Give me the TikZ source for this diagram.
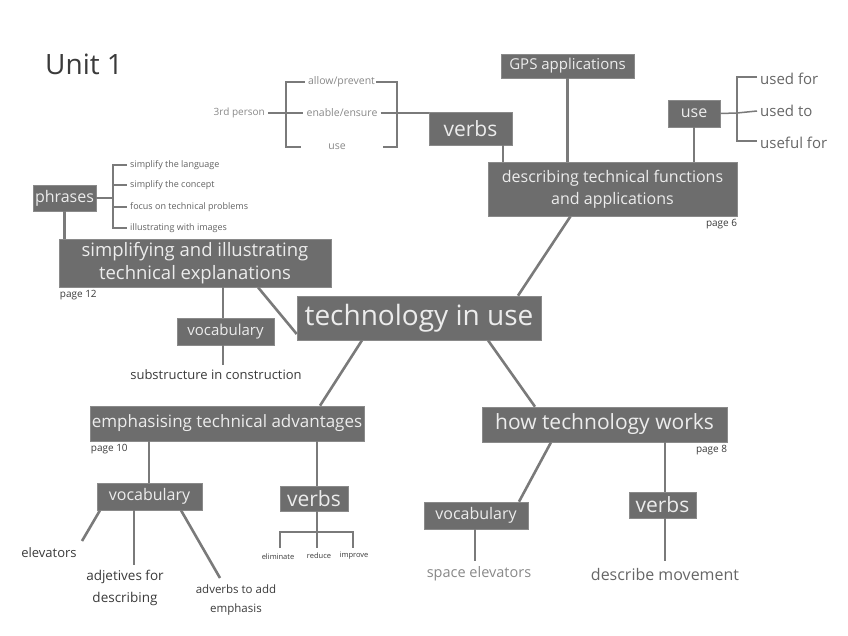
\documentclass[tikz,border=0pt]{standalone}
\usepackage{fontspec}
\setmainfont{Open Sans}
\definecolor{boxfill}{HTML}{6D6D6D}
\definecolor{boxtext}{HTML}{ECECEC}
\definecolor{linec}{HTML}{7A7A7A}
\definecolor{darktext}{HTML}{3A3A3A}
\definecolor{midtext}{HTML}{666666}
\definecolor{lighttext}{HTML}{888888}
\newcommand{\fs}[2]{\fontsize{#1}{#2}\selectfont}
\begin{document}
\begin{tikzpicture}[x=1pt,y=-1pt,
  box/.style={fill=boxfill,draw=boxfill!80!white,line width=0.6pt,text=boxtext,inner sep=0pt,align=center},
  lbl/.style={inner sep=0pt,align=center},
  conn/.style={draw=linec,line width=2.6pt},
  thin/.style={draw=linec,line width=1.5pt},
  pg/.style={inner sep=0pt,text=darktext,font=\fs{10}{12}}]
\useasboundingbox (0,0) rectangle (848,636);

% title
\node[lbl,anchor=west,text=darktext,font=\fs{28}{32}] (title) at (45,64) {Unit 1};

% boxes
\node[box,minimum width=133,minimum height=24,font=\fs{15}{18}] (gps) at (567.5,66) {GPS applications};
\node[box,minimum width=83,minimum height=33,font=\fs{21}{24}] (verbsT) at (470.5,128.5) {verbs};
\node[box,minimum width=52,minimum height=27,font=\fs{16}{19}] (use) at (694,113.5) {use};
\node[box,minimum width=249,minimum height=54,font=\fs{16}{22}] (desc) at (612.5,189) {describing technical functions\\and applications};
\node[box,minimum width=244,minimum height=44,font=\fs{28}{32}] (center) at (419,318) {technology in use};
\node[box,minimum width=272,minimum height=48,font=\fs{18.5}{23}] (simp) at (195,263) {simplifying and illustrating\\technical explanations};
\node[box,minimum width=63,minimum height=26,font=\fs{16}{19}] (phrases) at (64.5,198) {phrases};
\node[box,minimum width=97,minimum height=27,font=\fs{15}{18}] (vocab1) at (225.5,331.5) {vocabulary};
\node[box,minimum width=274,minimum height=35,font=\fs{17}{20}] (emph) at (227,423.5) {emphasising technical advantages};
\node[box,minimum width=245,minimum height=35,font=\fs{21}{24}] (how) at (604.5,424.5) {how technology works};
\node[box,minimum width=105,minimum height=27,font=\fs{16}{19}] (vocab2) at (149.5,496.5) {vocabulary};
\node[box,minimum width=68,minimum height=25,font=\fs{21}{24}] (verbs2) at (314,498.5) {verbs};
\node[box,minimum width=104,minimum height=27,font=\fs{16}{19}] (vocab3) at (476,515.5) {vocabulary};
\node[box,minimum width=67,minimum height=26,font=\fs{21}{24}] (verbs3) at (662.5,505) {verbs};

% page labels
\node[pg,anchor=north east] (p6) at (desc.south east) [yshift=-3] {page 6};
\node[pg,anchor=north west] (p12) at (simp.south west) [yshift=-3,xshift=1] {page 12};
\node[pg,anchor=north west] (p10) at (emph.south west) [yshift=-3,xshift=1] {page 10};
\node[pg,anchor=north east] (p8) at (how.south east) [yshift=-3] {page 8};

% top-right "use" list
\node[lbl,anchor=west,text=midtext,font=\fs{15}{18}] (usedfor) at (760,79) {used for};
\node[lbl,anchor=west,text=midtext,font=\fs{15}{18}] (usedto) at (760,111) {used to};
\node[lbl,anchor=west,text=midtext,font=\fs{15}{18}] (usefulfor) at (760,143) {useful for};
\coordinate (ub) at (737,113);
\draw[thin] (use.east) -- (ub);
\draw[thin] (usedfor.west) ++(-3,-2) -| (ub) |- ([xshift=-3,yshift=2]usefulfor.west);
\draw[thin] (ub) -- ([xshift=-3]usedto.west);

% top verbs bracket
\node[lbl,anchor=east,text=lighttext,font=\fs{10}{12}] (third) at (265,113) {3rd person};
\node[lbl,text=lighttext,font=\fs{10.5}{12}] (allow) at (341.5,82) {allow/prevent};
\node[lbl,text=lighttext,font=\fs{10.5}{12}] (enable) at (342,113) {enable/ensure};
\node[lbl,text=lighttext,font=\fs{10.5}{12}] (usev) at (337,147) {use};
\draw[thin] ([xshift=3]third.east) -- ([xshift=-3]enable.west);
\draw[thin] ([xshift=-3]allow.west) -| (286,147) -- (301,147);
\draw[thin] ([xshift=1]allow.east) -| (397,147) -- (383,147);
\draw[thin] ([xshift=3]enable.east) -- (verbsT.west |- enable.east);
\draw[conn] (verbsT.south -| 503,0) -- (desc.north -| 503,0);
\draw[conn] (gps.south) -- (desc.north -| gps.south);
\draw[conn] (use.south) -- (desc.north -| use.south);

% phrases list
\node[lbl,anchor=west,text=darktext!80!white,font=\fs{9}{11}] (ph1) at (130,165) {simplify the language};
\node[lbl,anchor=west,text=darktext!80!white,font=\fs{9}{11}] (ph2) at (130,185) {simplify the concept};
\node[lbl,anchor=west,text=darktext!80!white,font=\fs{9}{11}] (ph3) at (130,207) {focus on technical problems};
\node[lbl,anchor=west,text=darktext!80!white,font=\fs{9}{11}] (ph4) at (130,228) {illustrating with images};
\draw[thin] (phrases.east) -- (113,198);
\draw[thin] ([xshift=-3]ph1.west) -| (113,228) -- ([xshift=-3]ph4.west);
\draw[thin] (113,185) -- ([xshift=-3]ph2.west);
\draw[thin] (113,207) -- ([xshift=-3]ph3.west);
\draw[conn] (phrases.south) -- (simp.north -| phrases.south);

% main branches
\draw[conn] ([xshift=-42]desc.south) -- ([xshift=99]center.north);
\draw[conn] ([xshift=63]simp.south) -- ([yshift=-16]center.west);
\draw[conn] ([xshift=-57]center.south) -- ([xshift=93]emph.north);
\draw[conn] ([xshift=69]center.south) -- ([xshift=-69.5]how.north);

% vocabulary under simp
\node[lbl,text=darktext,font=\fs{13}{16}] (subs) at (216,375) {substructure in construction};
\draw[conn] (simp.south -| vocab1.north) ++(-2.5,0) -- ([xshift=-2.5]vocab1.north);
\draw[conn] ([xshift=-2.5]vocab1.south) -- ++(0,20);

% emphasising branch
\draw[conn] (emph.south -| 149,0) -- (vocab2.north -| 149,0);
\draw[conn] (emph.south -| 317,0) -- (verbs2.north -| 317,0);
\node[lbl,text=darktext,font=\fs{7.5}{9}] (elim) at (278,557) {eliminate};
\node[lbl,text=darktext,font=\fs{7.5}{9}] (redu) at (319,556) {reduce};
\node[lbl,text=darktext,font=\fs{7.5}{9}] (impr) at (354,556) {improve};
\draw[thin,line width=1.2pt] (verbs2.south -| 317,0) -- (317,548);
\draw[thin,line width=1.2pt] (280,548) |- (353,532) -- (353,548);

\node[lbl,text=darktext,font=\fs{13}{16}] (elev) at (49,553) {elevators};
\node[lbl,text=darktext,font=\fs{13.5}{22}] (adj) at (125,588) {adjetives for\\describing};
\node[lbl,text=darktext,font=\fs{11.5}{19}] (adv) at (236,600) {adverbs to add\\emphasis};
\draw[conn] (vocab2.south -| 100,0) -- (82,541);
\draw[conn] (vocab2.south -| 134,0) -- (134,565);
\draw[conn] (vocab2.south -| 181,0) -- (220,578);

% how technology works branch
\draw[conn] ([xshift=-53.5]how.south) -- ([xshift=43]vocab3.north);
\draw[conn] (how.south -| 665,0) -- (verbs3.north -| 665,0);
\node[lbl,text=lighttext,font=\fs{14.5}{17}] (space) at (479,574) {space elevators};
\node[lbl,text=midtext,font=\fs{16}{19}] (move) at (665,574) {describe movement};
\draw[conn] (vocab3.south -| 475,0) -- (475,561);
\draw[conn] (verbs3.south -| 665,0) -- (665,561);
\end{tikzpicture}
\end{document}
